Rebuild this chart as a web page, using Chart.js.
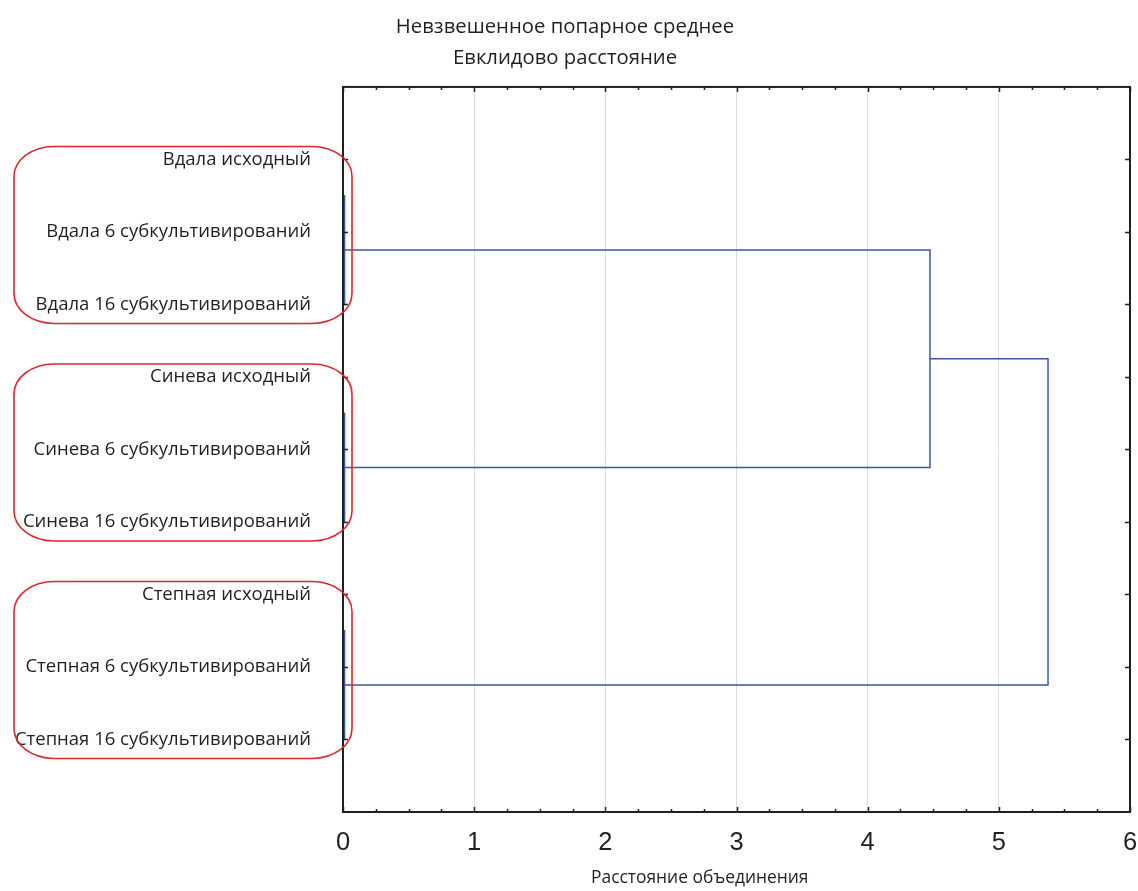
<!DOCTYPE html>
<html>
<head>
<meta charset="utf-8">
<script src="https://cdn.jsdelivr.net/npm/chart.js@4"></script>
<style>
html,body{margin:0;padding:0;background:#fff;}
#wrap{width:1138px;height:891px;position:relative;}
</style>
</head>
<body>
<div id="wrap"><canvas id="c" width="1138" height="891"></canvas></div>
<script>
// ---- data ----
const titleLines = ["Невзвешенное попарное среднее", "Евклидово расстояние"];
const xAxisTitle = "Расстояние объединения";
const categories = [
  "Вдала исходный",
  "Вдала 6 субкультивирований",
  "Вдала 16 субкультивирований",
  "Синева исходный",
  "Синева 6 субкультивирований",
  "Синева 16 субкультивирований",
  "Степная исходный",
  "Степная 6 субкультивирований",
  "Степная 16 субкультивирований"
];
// linkage: clusters 0..8 are leaves, merge k creates cluster 9+k
const mergeA    = [0, 9, 3, 11, 6, 13, 10, 15];
const mergeB    = [1, 2, 4, 5, 7, 8, 12, 14];
const mergeDist = [0.002, 0.012, 0.002, 0.012, 0.002, 0.012, 4.475, 5.375];
const xTickValues = [0, 1, 2, 3, 4, 5, 6];
const groups = [[0, 2], [3, 5], [6, 8]]; // highlighted groups (first, last leaf)

// ---- build dendrogram segments through the linkage ----
const pos = categories.map((_, i) => i + 1);
const hgt = categories.map(() => 0);
const segments = [];
mergeA.forEach((a, k) => {
  const b = mergeB[k], d = mergeDist[k];
  segments.push([
    {x: hgt[a], y: pos[a]}, {x: d, y: pos[a]},
    {x: d, y: pos[b]}, {x: hgt[b], y: pos[b]}
  ]);
  pos.push((pos[a] + pos[b]) / 2);
  hgt.push(d);
});

const BLUE = '#3a56a8';
const INK = '#231f20';
const LABEL_FONT = '"Open Sans", "DejaVu Sans", sans-serif';

const decor = {
  id: 'decor',
  afterDatasetsDraw(chart) {
    const {ctx, chartArea: ca, scales: {x, y}} = chart;
    ctx.save();
    // frame
    ctx.strokeStyle = INK;
    ctx.lineWidth = 2;
    ctx.strokeRect(ca.left, ca.top, ca.right - ca.left, ca.bottom - ca.top);
    // inward ticks on x (top and bottom)
    ctx.lineWidth = 1.5;
    ctx.beginPath();
    for (let v = 0; v <= 6.0001; v += 0.25) {
      const px = Math.round(x.getPixelForValue(v)) + 0.5;
      const major = Math.abs(v - Math.round(v)) < 1e-6;
      const len = major ? 5 : 3;
      ctx.moveTo(px, ca.bottom); ctx.lineTo(px, ca.bottom - len);
      ctx.moveTo(px, ca.top); ctx.lineTo(px, ca.top + len);
    }
    // inward ticks on y (left and right) at leaves
    categories.forEach((_, i) => {
      const py = Math.round(y.getPixelForValue(i + 1)) + 0.5;
      ctx.moveTo(ca.left, py); ctx.lineTo(ca.left + 5, py);
      ctx.moveTo(ca.right, py); ctx.lineTo(ca.right - 5, py);
    });
    ctx.stroke();
    // red rounded boxes around groups
    ctx.strokeStyle = '#e3262b';
    ctx.lineWidth = 1.6;
    groups.forEach(([g0, g1]) => {
      const x0 = 14, x1 = x.getPixelForValue(0) + 9;
      const y0 = y.getPixelForValue(g0 + 1) - 13;
      const y1 = y.getPixelForValue(g1 + 1) + 19;
      const rx = 40, ry = 30;
      ctx.beginPath();
      ctx.moveTo(x0 + rx, y0);
      ctx.lineTo(x1 - rx, y0);
      ctx.ellipse(x1 - rx, y0 + ry, rx, ry, 0, -Math.PI / 2, 0);
      ctx.lineTo(x1, y1 - ry);
      ctx.ellipse(x1 - rx, y1 - ry, rx, ry, 0, 0, Math.PI / 2);
      ctx.lineTo(x0 + rx, y1);
      ctx.ellipse(x0 + rx, y1 - ry, rx, ry, 0, Math.PI / 2, Math.PI);
      ctx.lineTo(x0, y0 + ry);
      ctx.ellipse(x0 + rx, y0 + ry, rx, ry, 0, Math.PI, Math.PI * 1.5);
      ctx.closePath();
      ctx.stroke();
    });
    // x axis title
    ctx.fillStyle = INK;
    ctx.font = '17.4px ' + LABEL_FONT;
    ctx.textAlign = 'center';
    ctx.textBaseline = 'middle';
    ctx.fillText(xAxisTitle, x.getPixelForValue(2.72), 878);
    ctx.restore();
  }
};

new Chart(document.getElementById('c'), {
  type: 'scatter',
  data: {
    datasets: segments.map(seg => ({
      data: seg,
      showLine: true,
      borderColor: BLUE,
      borderWidth: 1.5,
      pointRadius: 0,
      fill: false,
      tension: 0
    }))
  },
  options: {
    responsive: false,
    animation: false,
    layout: {padding: {left: 0, right: 8, top: 0, bottom: 0}},
    plugins: {
      legend: {display: false},
      tooltip: {enabled: false},
      title: {
        display: true,
        text: titleLines,
        color: INK,
        font: {family: LABEL_FONT, size: 20.3, weight: 'normal', lineHeight: 1.55},
        padding: {top: 11, bottom: 13}
      }
    },
    scales: {
      x: {
        type: 'linear', min: 0, max: 6,
        afterBuildTicks: s => { s.ticks = xTickValues.map(v => ({value: v})); },
        afterFit: s => { s.height = 79; s.paddingLeft = 0; s.paddingRight = 0; },
        border: {display: false},
        grid: {
          drawTicks: false,
          color: c => (c.tick && (c.tick.value === 0 || c.tick.value === 6)) ? 'rgba(0,0,0,0)' : '#dedede',
          lineWidth: 1
        },
        ticks: {
          color: INK,
          padding: 15.5,
          font: {family: '"Liberation Sans", Arial, sans-serif', size: 25.5},
          maxRotation: 0
        }
      },
      y: {
        type: 'linear', min: 0, max: 10, reverse: true,
        afterBuildTicks: s => { s.ticks = categories.map((_, i) => ({value: i + 1})); },
        afterFit: s => { s.width = 343; s.paddingTop = 0; s.paddingBottom = 0; },
        border: {display: false},
        grid: {display: false, drawTicks: false},
        ticks: {
          autoSkip: false,
          color: INK,
          padding: 32,
          font: {family: LABEL_FONT, size: 18.5},
          callback: v => categories[v - 1] ?? ''
        }
      }
    }
  },
  plugins: [decor]
});
</script>
</body>
</html>
